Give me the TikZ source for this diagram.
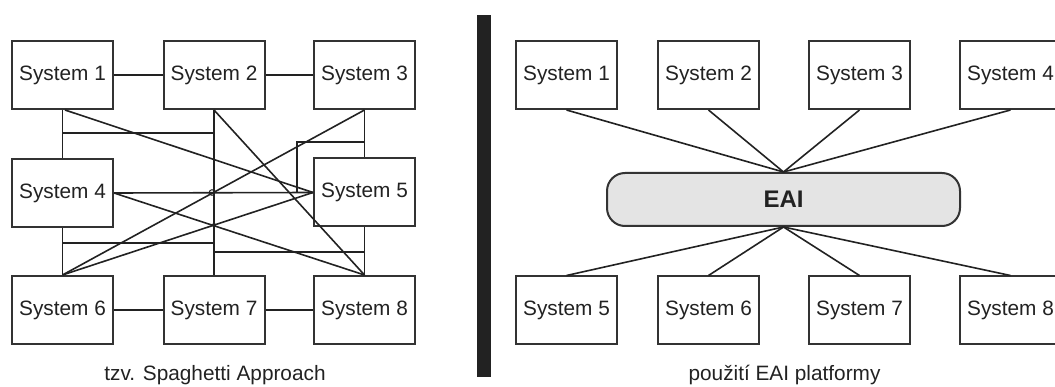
\documentclass[tikz,border=0pt]{standalone}
\usepackage{fontspec}
\setmainfont{Liberation Sans}
\definecolor{ink}{HTML}{222222}
\definecolor{boxline}{HTML}{333333}
\definecolor{eaifill}{HTML}{E4E4E4}
\begin{document}
\begin{tikzpicture}[x=1pt,y=-1pt,
  sysbox/.style={draw=boxline, line width=2pt, fill=white, minimum width=101pt, minimum height=68pt, inner sep=0pt, font=\fontsize{20.8}{24}\selectfont, text=ink},
  conn/.style={draw=ink, line width=1.6pt},
  thickconn/.style={draw=ink, line width=2.4pt},
  caption/.style={anchor=base, font=\fontsize{20.8}{24}\selectfont, text=ink}]
\useasboundingbox (0,0) rectangle (1055,387);

% ---------- left: spaghetti ----------
\coordinate (h1a) at (62.5,133);
\coordinate (h1b) at (214,133);
\coordinate (h2a) at (62.5,243);
\coordinate (h2b) at (214,243);
\coordinate (h3a) at (214,252);
\coordinate (h3b) at (364.5,252);
\coordinate (h4a) at (364.5,142);
\coordinate (h4b) at (297,142);
\coordinate (h4c) at (297,192.5);
\coordinate (jc) at (212,192.5);
\coordinate (jd) at (214,225);

\node[sysbox] (L1) at (62.5,75) {System 1};
\node[sysbox] (L2) at (214,75) {System 2};
\node[sysbox] (L3) at (364.5,75) {System 3};
\node[sysbox] (L4) at (62.5,193) {System 4};
\node[sysbox] (L5) at (364.5,192.5) {System 5};
\node[sysbox] (L6) at (62.5,310) {System 6};
\node[sysbox] (L7) at (214,310) {System 7};
\node[sysbox] (L8) at (364.5,310) {System 8};

\draw[conn] (L1.east) -- (L2.west);
\draw[conn] (L2.east) -- (L3.west);
\draw[conn] (L6.east) -- (L7.west);
\draw[conn] (L7.east) -- (L8.west);
\draw[conn] (L1.south) -- (L4.north);
\draw[conn] (h1a) -- (h1b);
\draw[conn] ([xshift=2.5pt]L1.south) -- (L5.west);
\draw[conn] (L4.east) -- (L5.west);
\draw[conn] (L4.east) -- (L8.north);
\draw[conn] (L4.south) -- (L6.north);
\draw[conn] (h2a) -- (h2b);
\draw[conn] (L6.north) -- (L3.south);
\draw[conn] (L6.north) -- (L5.west);
\draw[conn] (L2.south) -- (L8.north);
\draw[conn] (L3.south) -- (L5.north);
\draw[conn] (h4a) -- (h4b) -- (h4c);
\draw[conn] (L5.south) -- (L8.north);
\draw[conn] (h3a) -- (h3b);
\draw[thickconn] (L2.south) -- (L7.north);
\draw[ink, line width=1pt] (jc) circle (2.8pt);
\fill[ink] (jd) circle (2pt);

\node[caption] (capL) at (215,381) {tzv. Spaghetti Approach};

% ---------- separator bar ----------
\fill[ink] (477,15) rectangle (491,377);

% ---------- right: EAI ----------
\node[draw=boxline, line width=2pt, fill=eaifill, rounded corners=18pt, minimum width=353pt, minimum height=53pt, inner sep=0pt, font=\fontsize{24}{28}\bfseries\selectfont, text=ink] (EAI) at (783.5,199.5) {EAI};

\node[sysbox] (R1) at (566.5,75) {System 1};
\node[sysbox] (R2) at (708.5,75) {System 2};
\node[sysbox] (R3) at (859.5,75) {System 3};
\node[sysbox] (R4) at (1010.5,75) {System 4};
\node[sysbox] (R5) at (566.5,310.5) {System 5};
\node[sysbox] (R6) at (708.5,310.5) {System 6};
\node[sysbox] (R7) at (859.5,310.5) {System 7};
\node[sysbox] (R8) at (1010.5,310.5) {System 8};

\foreach \n in {R1,R2,R3,R4} \draw[conn] (\n.south) -- (EAI.north);
\foreach \n in {R5,R6,R7,R8} \draw[conn] (\n.north) -- (EAI.south);

\node[caption] (capR) at (784.5,381) {použití EAI platformy};
\end{tikzpicture}
\end{document}
